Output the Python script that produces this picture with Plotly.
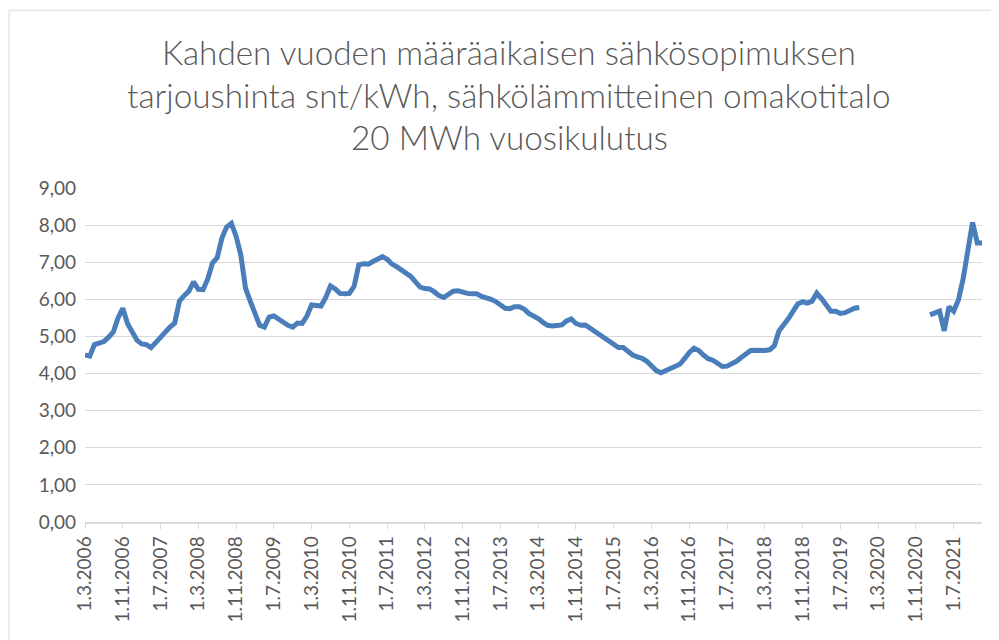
import pandas as pd
import plotly.graph_objects as go

# Monthly categories 1.3.2006 ... 1.1.2022
months = pd.date_range("2006-03-01", "2022-01-01", freq="MS")
categories = [f"{d.day}.{d.month}.{d.year}" for d in months]

# Offer price snt/kWh (None = no data)
prices = [
    4.50, 4.47, 4.78, 4.82, 4.86, 4.98, 5.12, 5.50, 5.76, 5.35,
    5.15, 4.90, 4.80, 4.78, 4.70, 4.85, 4.95, 5.12, 5.25, 5.36,
    5.95, 6.10, 6.22, 6.47, 6.27, 6.26, 6.55, 6.98, 7.12, 7.65,
    7.95, 8.05, 7.70, 7.20, 6.30, 5.95, 5.60, 5.30, 5.25, 5.52,
    5.55, 5.46, 5.38, 5.30, 5.25, 5.36, 5.35, 5.55, 5.85, 5.85,
    5.82, 6.05, 6.36, 6.28, 6.16, 6.15, 6.16, 6.35, 6.93, 6.96,
    6.95, 7.02, 7.08, 7.15, 7.08, 6.95, 6.88, 6.80, 6.72, 6.62,
    6.47, 6.33, 6.29, 6.28, 6.20, 6.10, 6.05, 6.12, 6.22, 6.23,
    6.19, 6.16, 6.15, 6.15, 6.08, 6.05, 6.00, 5.94, 5.83, 5.76,
    5.75, 5.80, 5.80, 5.74, 5.62, 5.56, 5.48, 5.38, 5.30, 5.28,
    5.30, 5.31, 5.42, 5.47, 5.35, 5.30, 5.31, 5.22, 5.12, 5.04,
    4.95, 4.85, 4.76, 4.70, 4.70, 4.60, 4.50, 4.45, 4.41, 4.33,
    4.22, 4.08, 4.02, 4.08, 4.12, 4.20, 4.25, 4.40, 4.57, 4.68,
    4.62, 4.50, 4.40, 4.36, 4.28, 4.19, 4.20, 4.26, 4.33, 4.43,
    4.54, 4.62, 4.63, 4.62, 4.62, 4.64, 4.75, 5.15, 5.30, 5.48,
    5.68, 5.88, 5.93, 5.90, 5.95, 6.17, 6.02, 5.85, 5.68, 5.68,
    5.62, 5.64, 5.70, 5.76, 5.78,
    None, None, None, None, None, None, None, None, None, None,
    None, None, None, None,
    5.58, 5.63, 5.68, 5.15, 5.80, 5.68, 5.98, 6.55, 7.35, 8.07,
    7.52, 7.52,
]

tick_labels = categories[::8]
title_lines = [
    "Kahden vuoden määräaikaisen sähkösopimuksen",
    "tarjoushinta snt/kWh, sähkölämmitteinen omakotitalo",
    "20 MWh vuosikulutus",
]

OFF = 8  # page body margin
W, H = 999 - OFF, 640 - OFF
ML, MR, MT, MB = 76.5, 17, 180, 117.5
PW, PH = W - ML - MR, H - MT - MB

def px_to_paper_x(px):
    return (px - OFF - ML) / PW

def px_to_paper_y(py):
    return (H - MB - (py - OFF)) / PH

fig = go.Figure()
fig.add_trace(go.Scatter(
    x=categories, y=prices, mode="lines",
    line=dict(color="#4a7ebb", width=5),
    connectgaps=False, hoverinfo="x+y",
))

title_y = [52, 95, 137]
for txt, ty in zip(title_lines, title_y):
    fig.add_annotation(
        text=txt, xref="paper", yref="paper",
        x=px_to_paper_x(509), y=px_to_paper_y(ty),
        xanchor="center", yanchor="middle", showarrow=False,
        font=dict(family="Lato", size=33.3, color="#595959", weight=300),
    )

fig.add_shape(
    type="rect", xref="paper", yref="paper",
    x0=px_to_paper_x(8.5), x1=px_to_paper_x(1010),
    y0=px_to_paper_y(660), y1=px_to_paper_y(10),
    line=dict(color="#d9d9d9", width=1), layer="below",
)

fig.update_layout(
    width=W, height=H,
    margin=dict(l=ML, r=MR, t=MT, b=MB, pad=0, autoexpand=False),
    paper_bgcolor="white", plot_bgcolor="white",
    showlegend=False,
    separators=", ",
    font=dict(family="Lato", size=19, color="#595959"),
)
fig.update_xaxes(
    type="category", range=[0, len(categories) - 1],
    tickmode="array", tickvals=tick_labels, ticktext=tick_labels,
    tickangle=-90, ticks="outside", ticklen=5, tickcolor="#d9d9d9",
    showline=True, linecolor="#d9d9d9", linewidth=1.5,
    showgrid=False, zeroline=False, automargin=False,
    tickfont=dict(family="Lato", size=19, color="#595959"),
)
fig.update_yaxes(
    range=[0, 9], dtick=1, tick0=0, tickformat=".2f",
    showgrid=True, gridcolor="#d9d9d9", gridwidth=1,
    zeroline=False, showline=False, ticks="", automargin=False,
    ticklabelstandoff=8,
    tickfont=dict(family="Lato", size=19, color="#595959"),
)

fig.write_html("out.html")
